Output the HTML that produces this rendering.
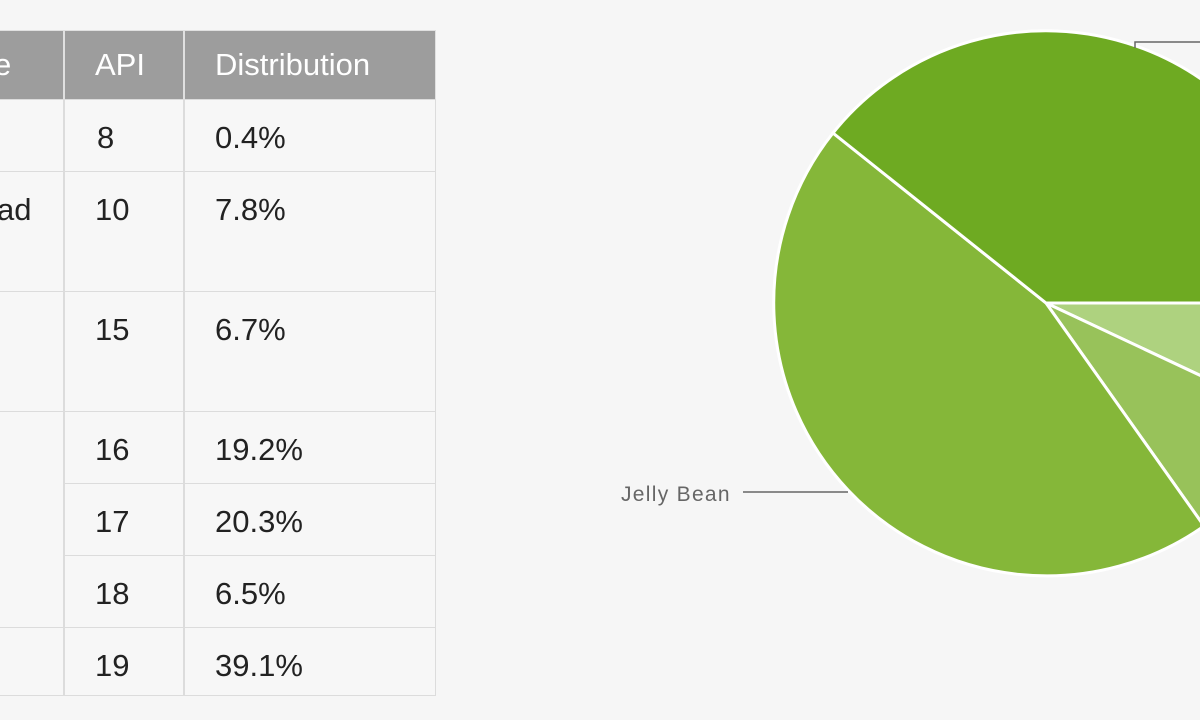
<!DOCTYPE html>
<html><head><style>
body{margin:0;width:1200px;height:720px;background:#f6f6f6;overflow:hidden;position:relative;font-family:"Liberation Sans",sans-serif}
.c{position:absolute;box-sizing:border-box;border:1px solid #dcdcdc;background:#f7f7f7;color:#222;font-size:31px;padding-left:30px;padding-top:21px;line-height:34px}
.h{background:#9d9d9d;color:#fff;padding-top:17px;border-color:#e0e0e0}
</style></head><body>
<div class="c h" style="left:-40px;top:30px;width:104px;height:70px;padding-left:33px">e</div>
<div class="c h" style="left:64px;top:30px;width:120px;height:70px">API</div>
<div class="c h" style="left:184px;top:30px;width:252px;height:70px">Distribution</div>

<div class="c" style="left:-40px;top:99px;width:104px;height:73px"></div>
<div class="c" style="left:64px;top:99px;width:120px;height:73px;padding-left:32px">8</div>
<div class="c" style="left:184px;top:99px;width:252px;height:73px">0.4%</div>

<div class="c" style="left:-40px;top:171px;width:104px;height:121px;padding-left:36px">ad</div>
<div class="c" style="left:64px;top:171px;width:120px;height:121px">10</div>
<div class="c" style="left:184px;top:171px;width:252px;height:121px">7.8%</div>

<div class="c" style="left:-40px;top:291px;width:104px;height:121px"></div>
<div class="c" style="left:64px;top:291px;width:120px;height:121px">15</div>
<div class="c" style="left:184px;top:291px;width:252px;height:121px">6.7%</div>

<div class="c" style="left:-40px;top:411px;width:104px;height:217px"></div>
<div class="c" style="left:64px;top:411px;width:120px;height:73px">16</div>
<div class="c" style="left:184px;top:411px;width:252px;height:73px">19.2%</div>
<div class="c" style="left:64px;top:483px;width:120px;height:73px">17</div>
<div class="c" style="left:184px;top:483px;width:252px;height:73px">20.3%</div>
<div class="c" style="left:64px;top:555px;width:120px;height:73px">18</div>
<div class="c" style="left:184px;top:555px;width:252px;height:73px">6.5%</div>

<div class="c" style="left:-40px;top:627px;width:104px;height:69px"></div>
<div class="c" style="left:64px;top:627px;width:120px;height:69px">19</div>
<div class="c" style="left:184px;top:627px;width:252px;height:69px">39.1%</div>

<svg style="position:absolute;left:0;top:0" width="1200" height="720">
<g stroke="#fff" stroke-width="3">
<path d="M1046,303 L1319,303 A273,273 0 0,1 1293,419 Z" fill="#aed27f"/>
<path d="M1046,303 L1293,419 A273,273 0 0,1 1204,526 Z" fill="#98c25a"/>
<path d="M1046,303 L1204,526 A273,273 0 0,1 833,133 Z" fill="#85b739"/>
<path d="M1046,303 L833,133 A273,273 0 0,1 1319,303 Z" fill="#6eaa22"/>
</g>
<path d="M743,492 L848,492" stroke="#666" stroke-width="1.5" fill="none"/>
<path d="M1135,48 L1135,42 L1200,42" stroke="#666" stroke-width="1.5" fill="none"/>
<text x="621" y="501" font-size="21" letter-spacing="1.3" fill="#666" font-family="Liberation Sans, sans-serif">Jelly Bean</text>
</svg>
</body></html>
